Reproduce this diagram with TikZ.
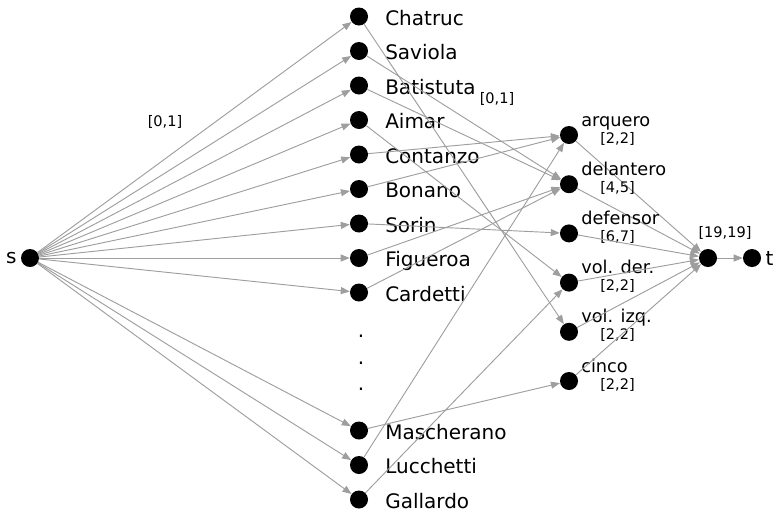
\documentclass[tikz,border=0pt]{standalone}
\usepackage{fontspec}
\setmainfont{DejaVu Sans}
\usetikzlibrary{positioning, arrows.meta, calc}
\definecolor{arcgray}{RGB}{158,158,158}

\begin{document}
\begin{tikzpicture}[
    x=0.75pt, y=0.75pt,
    >={Triangle[length=6.75pt, width=5.25pt]}, % filled gray tips
    % Styles
    vertex/.style={ % black dot
        circle,
        fill=black,
        inner sep=0pt,
        minimum size=13.5pt
    },
    flow/.style={ % arc of the network
        ->,
        draw=arcgray,
        line width=0.7pt
    },
    pname/.style={ % player name
        font=\fontsize{15}{18}\selectfont,
        inner sep=0pt,
        anchor=base west
    },
    posname/.style={ % position name
        font=\fontsize{13.3}{16}\selectfont,
        inner sep=0pt,
        anchor=base west
    },
    bnd/.style={ % lower and upper bound
        font=\fontsize{10.9}{13}\selectfont,
        inner sep=0pt
    },
    bndw/.style={ % bound under a position name
        bnd,
        anchor=base west
    }
]
    \useasboundingbox (-30,-254) rectangle (744,258);

    % Source, sink and t
    \node[vertex] (s) at (0,0) {};
    \node[pname, anchor=east, left=3pt of s] (slbl) {s};
    \node[vertex] (sk) at (678,0) {};
    \node[vertex] (t) at (722,0) {};
    \node[pname, anchor=west, right=3pt of t] (tlbl) {t};
    \node[bnd] (skb) at ($(sk)+(17,25)$) {[19,19]};
    \draw[flow] (sk) -- (t);

    % Players and arcs from s
    \foreach \i/\n in {0/Chatruc, 1/Saviola, 2/Batistuta, 3/Aimar, 4/Contanzo,
                       5/Bonano, 6/Sorin, 7/Figueroa, 8/Cardetti,
                       12/Mascherano, 13/Lucchetti, 14/Gallardo} {
        \node[vertex] (p\i) at (329, {(7-\i)*34.5}) {};
        \node[pname] (n\i) at ($(p\i)+(26,-8.5)$) {\n};
        \draw[flow] (s) -- (p\i);
    }

    % Dots for the players left out
    \foreach \k/\Y in {1/-79, 2/-106, 3/-132} {
        \node[pname, anchor=base] (dot\k) at (331,\Y) {.};
    }

    % Positions and arcs to the sink
    \foreach \j/\c/\m/\b in {0/arq/arquero/{[2,2]}, 1/del/delantero/{[4,5]},
                             2/def/defensor/{[6,7]}, 3/vd/vol. der./{[2,2]},
                             4/vi/vol. izq./{[2,2]}, 5/cin/cinco/{[2,2]}} {
        \node[vertex] (\c) at (539, {(2.5-\j)*49.2}) {};
        \node[posname] (\c-name) at ($(\c)+(12,9)$) {\m};
        \node[bndw] (\c-bnd) at ($(\c)+(31,-8)$) {\b};
        \draw[flow] (\c) -- (sk);
    }

    % Arcs from players to positions
    \foreach \i/\c in {0/vi, 1/del, 2/del, 3/vd, 4/arq, 5/arq, 6/def,
                       7/del, 8/del, 12/cin, 13/arq, 14/vd} {
        \draw[flow] (p\i) -- (\c);
    }

    % Bounds on the arcs
    \node[bnd] (sbnd) at (135,136) {[0,1]};
    \node[bnd] (pbnd) at (467,159) {[0,1]};

\end{tikzpicture}
\end{document}
